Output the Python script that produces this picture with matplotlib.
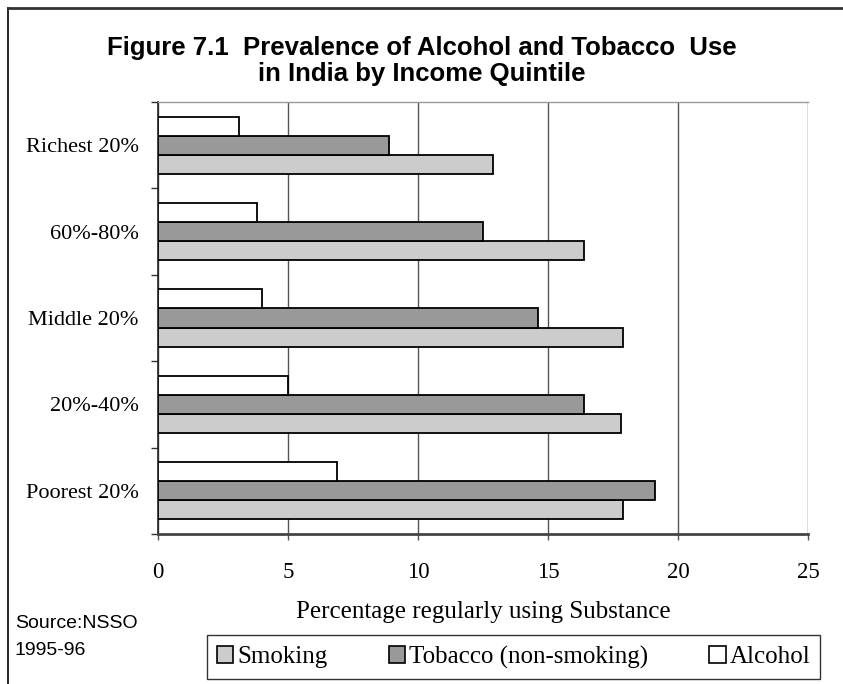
import numpy as np
import matplotlib
matplotlib.use("Agg")
import matplotlib.pyplot as plt
from matplotlib.lines import Line2D
from matplotlib.patches import Patch

# income quintiles, bottom to top
quintiles = ["Poorest 20%", "20%-40%", "Middle 20%", "60%-80%", "Richest 20%"]
smoking = [17.9, 17.8, 17.9, 16.4, 12.9]
tobacco = [19.1, 16.4, 14.6, 12.5, 8.9]
alcohol = [6.9, 5.0, 4.0, 3.8, 3.1]
x_ticks = [0, 5, 10, 15, 20, 25]

serif = "Liberation Serif"
sans = "Liberation Sans"

fig = plt.figure(figsize=(8.43, 6.84), dpi=100)
ax = fig.add_axes([158 / 843, 1 - 534 / 684, 650 / 843, 432 / 684])

y = np.arange(len(quintiles))
h = 0.22
ax.barh(y - h, smoking, height=h, color="#cccccc", edgecolor="black", linewidth=1.3, zorder=3)
ax.barh(y, tobacco, height=h, color="#999999", edgecolor="black", linewidth=1.3, zorder=3)
ax.barh(y + h, alcohol, height=h, color="white", edgecolor="black", linewidth=1.3, zorder=3)

ax.set_xlim(0, 25)
ax.set_ylim(-0.5, len(quintiles) - 0.5)
ax.set_xticks(x_ticks)
ax.set_xticklabels([str(t) for t in x_ticks], fontfamily=serif, fontsize=16.5)
ax.grid(axis="x", color="#555555", linewidth=1.0, zorder=0)

# category labels in the middle, tick marks on the boundaries
ax.set_yticks(y)
ax.set_yticklabels(quintiles, fontfamily=serif, fontsize=16)
ax.set_yticks(np.arange(-0.5, len(quintiles)), minor=True)
ax.tick_params(axis="y", which="major", length=0, pad=14)
ax.tick_params(axis="y", which="minor", length=5, width=1, color="#333333")
ax.tick_params(axis="x", length=4, width=1, color="#555555", pad=16)

ax.spines["left"].set_color("#222222")
ax.spines["left"].set_linewidth(1.2)
ax.spines["bottom"].set_color("#444444")
ax.spines["bottom"].set_linewidth(2)
ax.spines["top"].set_color("#999999")
ax.spines["top"].set_linewidth(1)
ax.spines["right"].set_visible(False)

ax.set_xlabel("Percentage regularly using Substance", fontfamily=serif, fontsize=18, labelpad=13)

fig.text(0.5, 1 - 55 / 684, "Figure 7.1  Prevalence of Alcohol and Tobacco  Use",
         ha="center", va="baseline", fontfamily=sans, fontweight="bold", fontsize=18.5)
fig.text(0.5, 1 - 81 / 684, "in India by Income Quintile",
         ha="center", va="baseline", fontfamily=sans, fontweight="bold", fontsize=18.5)

fig.text(15 / 843, 1 - 628 / 684, "Source:NSSO", fontfamily=sans, fontsize=14, va="baseline")
fig.text(15 / 843, 1 - 655 / 684, "1995-96", fontfamily=sans, fontsize=14, va="baseline")

handles = [Patch(facecolor="#cccccc", edgecolor="black", linewidth=1.2),
           Patch(facecolor="#999999", edgecolor="black", linewidth=1.2),
           Patch(facecolor="white", edgecolor="black", linewidth=1.2)]
leg = fig.legend(handles, ["Smoking", "Tobacco (non-smoking)", "Alcohol"],
                 loc="center", bbox_to_anchor=(207 / 843, 1 - 680 / 684, 613 / 843, 46 / 684),
                 mode="expand", ncol=3,
                 prop={"family": serif, "size": 18}, frameon=True, fancybox=False,
                 edgecolor="black", handlelength=0.65, handleheight=0.65,
                 handletextpad=0.15, borderpad=0.4, borderaxespad=0)
leg.get_frame().set_linewidth(1.0)

# outer frame (left and top edges)
fig.add_artist(Line2D([8 / 843, 8 / 843], [0, 1 - 7.5 / 684], transform=fig.transFigure,
                      color="black", linewidth=1.2))
fig.add_artist(Line2D([8 / 843, 1], [1 - 7.5 / 684, 1 - 7.5 / 684], transform=fig.transFigure,
                      color="#333333", linewidth=2))

fig.savefig("out.png", dpi=100)
